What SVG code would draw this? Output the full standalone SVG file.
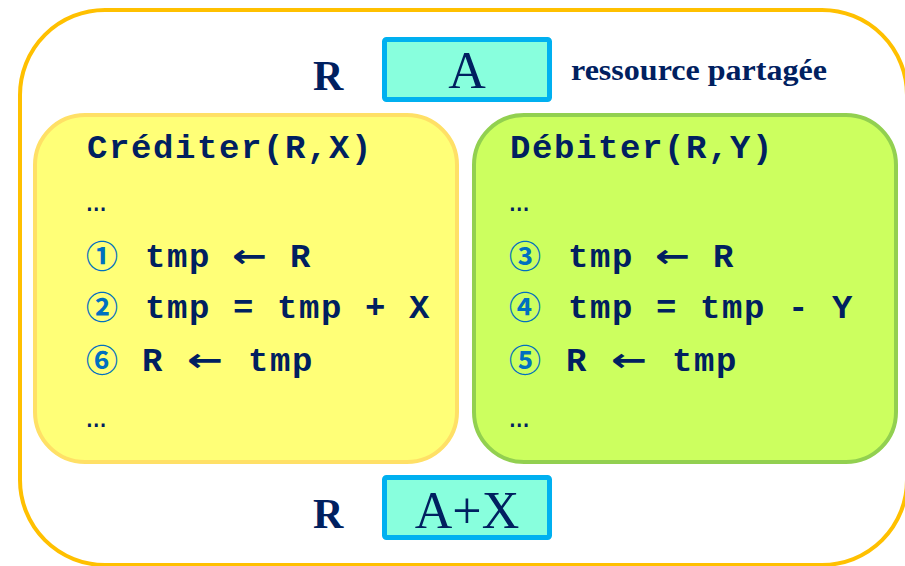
<svg xmlns="http://www.w3.org/2000/svg" width="905" height="566" viewBox="0 0 905 566">
  <style>
    .frame { fill: #FFFFFF; stroke: #FFC000; stroke-width: 4; }
    .res { fill: #88FFDD; stroke: #00B0F0; stroke-width: 5; }
    .credit { fill: #FFFF77; stroke: #FFE066; stroke-width: 4; }
    .debit { fill: #CCFF5F; stroke: #92D050; stroke-width: 4; }
    .lbl { font-family: "Liberation Serif", "Times New Roman", serif; font-weight: bold; fill: #002060; }
    .val { font-family: "Liberation Serif", "Times New Roman", serif; font-size: 52px; fill: #002060; text-anchor: middle; }
    .code { font-family: "Liberation Mono", "Courier New", monospace; font-weight: bold; font-size: 34px; letter-spacing: 1.6px; fill: #002060; }
    .dots { font-family: "Liberation Mono", "Courier New", monospace; font-size: 34px; fill: #002060; }
    .arrow { font-family: "DejaVu Sans", sans-serif; font-weight: bold; font-size: 32px; fill: #002060; }
    .num { font-family: "Noto Sans CJK JP", "DejaVu Sans", sans-serif; font-weight: bold; font-size: 32px; fill: #0070C0; }
  </style>

  <!-- outer frame -->
  <rect class="frame" x="20" y="10" width="887" height="555" rx="85" ry="85"/>

  <!-- shared resource before -->
  <g id="resource-before">
    <text class="lbl" x="313" y="90" font-size="42">R</text>
    <rect class="res" x="384.5" y="39.5" width="165" height="60" rx="2"/>
    <text class="val" x="467" y="88">A</text>
    <text class="lbl" x="571" y="80" font-size="30" textLength="256" lengthAdjust="spacingAndGlyphs">ressource partagée</text>
  </g>

  <!-- credit process -->
  <g id="crediter">
    <rect class="credit" x="35" y="115" width="422" height="347" rx="50" ry="50"/>
    <text class="code" x="87" y="158">Créditer(R,X)</text>
    <text class="dots" x="86" y="211">…</text>
    <text class="num" x="86" y="268">①</text>
    <text class="code" x="145" y="267">tmp</text>
    <text class="arrow" x="232" y="267" textLength="35" lengthAdjust="spacingAndGlyphs">←</text>
    <text class="code" x="290" y="267">R</text>
    <text class="num" x="86" y="319">②</text>
    <text class="code" x="145" y="318">tmp = tmp + X</text>
    <text class="num" x="86" y="372">⑥</text>
    <text class="code" x="142" y="371">R</text>
    <text class="arrow" x="187" y="371" textLength="36" lengthAdjust="spacingAndGlyphs">←</text>
    <text class="code" x="248" y="371">tmp</text>
    <text class="dots" x="86" y="427">…</text>
  </g>

  <!-- debit process -->
  <g id="debiter">
    <rect class="debit" x="474" y="115" width="422" height="347" rx="50" ry="50"/>
    <text class="code" x="510" y="158">Débiter(R,Y)</text>
    <text class="dots" x="509" y="211">…</text>
    <text class="num" x="509" y="268">③</text>
    <text class="code" x="568" y="267">tmp</text>
    <text class="arrow" x="655" y="267" textLength="35" lengthAdjust="spacingAndGlyphs">←</text>
    <text class="code" x="713" y="267">R</text>
    <text class="num" x="509" y="319">④</text>
    <text class="code" x="568" y="318">tmp = tmp - Y</text>
    <text class="num" x="509" y="372">⑤</text>
    <text class="code" x="566" y="371">R</text>
    <text class="arrow" x="611" y="371" textLength="36" lengthAdjust="spacingAndGlyphs">←</text>
    <text class="code" x="672" y="371">tmp</text>
    <text class="dots" x="509" y="427">…</text>
  </g>

  <!-- shared resource after -->
  <g id="resource-after">
    <text class="lbl" x="313" y="528" font-size="42">R</text>
    <rect class="res" x="384.5" y="477.5" width="165" height="60" rx="2"/>
    <text class="val" x="467" y="528">A+X</text>
  </g>
</svg>
